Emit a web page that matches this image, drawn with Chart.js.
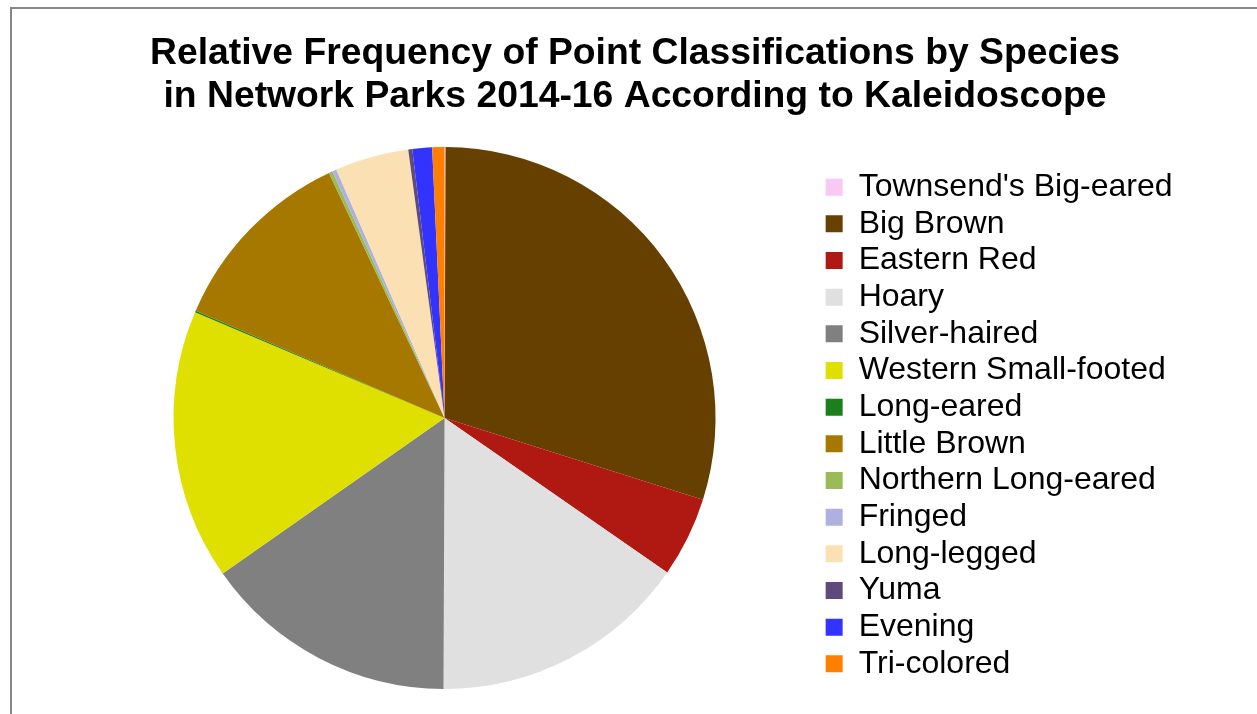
<!DOCTYPE html>
<html>
<head>
<meta charset="utf-8">
<script src="https://cdn.jsdelivr.net/npm/chart.js@4.4.1/dist/chart.umd.min.js"></script>
<style>
  html, body { margin: 0; padding: 0; background: #fff; overflow: hidden; }
  #wrap { position: relative; width: 1257px; height: 714px; }
  #frame { position: absolute; left: 10px; top: 7px; width: 1300px; height: 800px; border: 2px solid #888; box-sizing: border-box; pointer-events: none; }
  canvas { position: absolute; left: 0; top: 0; }
</style>
</head>
<body>
<div id="wrap">
  <canvas id="c" width="1257" height="714"></canvas>
  <div id="frame"></div>
</div>
<script>
const titleLines = [
  "Relative Frequency of Point Classifications by Species",
  "in Network Parks 2014-16 According to Kaleidoscope"
];
const species = [
  "Townsend's Big-eared", "Big Brown", "Eastern Red", "Hoary", "Silver-haired",
  "Western Small-footed", "Long-eared", "Little Brown", "Northern Long-eared",
  "Fringed", "Long-legged", "Yuma", "Evening", "Tri-colored"
];
const relFreq = [0.06, 29.8, 4.78, 15.4, 15.2, 16.1, 0.11, 11.5, 0.22, 0.25, 4.4, 0.24, 1.17, 0.73];
const sliceColors = [
  "#FAC8F5", "#664000", "#B01812", "#E0E0E0", "#808080",
  "#E0E000", "#1B7F1B", "#A67800", "#9BBB59",
  "#B0B0E0", "#FAE0B2", "#604A7B", "#3333FF", "#FF8000"
];

const FONT = "'Liberation Sans', Arial, sans-serif";

new Chart(document.getElementById('c'), {
  type: 'pie',
  data: {
    labels: species,
    datasets: [{
      data: relFreq,
      backgroundColor: sliceColors,
      borderWidth: 0,
      hoverOffset: 0
    }]
  },
  options: {
    responsive: false,
    devicePixelRatio: 1,
    animation: false,
    layout: { padding: { left: 87.5, right: 74.5, top: 0, bottom: 25 } },
    plugins: {
      tooltip: { enabled: false },
      title: {
        display: true,
        text: titleLines,
        color: '#000',
        font: { family: FONT, size: 37.3, weight: 'bold', lineHeight: 43/37.3 },
        padding: { top: 31.8, bottom: 29.2 }
      },
      subtitle: {
        display: true,
        position: 'right',
        weight: 500,
        fullSize: false,
        text: ' ',
        color: 'rgba(0,0,0,0)',
        font: { size: 19.4, lineHeight: 1 },
        padding: 0
      },
      legend: {
        display: true,
        position: 'right',
        fullSize: false,
        align: 'center',
        maxWidth: 420,
        title: { display: true, text: '', font: { size: 15, lineHeight: 1 }, padding: 0 },
        labels: {
          color: '#000',
          font: { family: FONT, size: 32 },
          boxWidth: 17,
          boxHeight: 17,
          padding: 4.66
        }
      }
    }
  }
});
</script>
</body>
</html>
